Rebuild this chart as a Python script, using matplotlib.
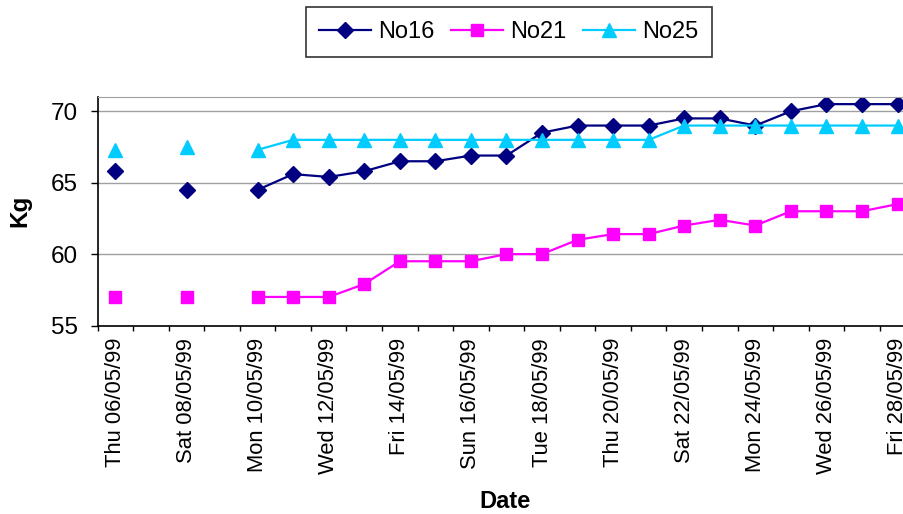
import matplotlib
matplotlib.use("Agg")
import matplotlib.pyplot as plt
import numpy as np
import pandas as pd

plt.rcParams["font.family"] = ["Liberation Sans", "DejaVu Sans"]

# one category per day, 6 May 1999 .. 28 May 1999 (no weighing on 7th and 9th)
dates = pd.date_range("1999-05-06", "1999-05-28", freq="D")
no16 = [65.8, np.nan, 64.5, np.nan, 64.5, 65.6, 65.4, 65.8, 66.5, 66.5, 66.9, 66.9,
        68.5, 69.0, 69.0, 69.0, 69.5, 69.5, 69.0, 70.0, 70.5, 70.5, 70.5]
no21 = [57.0, np.nan, 57.0, np.nan, 57.0, 57.0, 57.0, 57.9, 59.5, 59.5, 59.5, 60.0,
        60.0, 61.0, 61.4, 61.4, 62.0, 62.4, 62.0, 63.0, 63.0, 63.0, 63.5]
no25 = [67.3, np.nan, 67.5, np.nan, 67.3, 68.0, 68.0, 68.0, 68.0, 68.0, 68.0, 68.0,
        68.0, 68.0, 68.0, 68.0, 69.0, 69.0, 69.0, 69.0, 69.0, 69.0, 69.0]
y_ticks = [55, 60, 65, 70]

fig = plt.figure(figsize=(9.04, 5.14), dpi=100)
ax = fig.add_axes([0.108, 0.3667, 0.9045, 0.4446])

x = np.arange(len(dates))
ax.plot(x, no16, color="#000080", lw=1.6, marker="D", ms=8.5, label="No16")
ax.plot(x, no21, color="#FF00FF", lw=1.6, marker="s", ms=9, label="No21")
ax.plot(x, no25, color="#00CCFF", lw=1.6, marker="^", ms=10, label="No25")

ax.set_xlim(-0.5, len(dates) - 0.5)
ax.set_ylim(55, 71)

# tick marks on day boundaries, labels on every other day centre
ax.set_xticks(np.arange(-0.5, len(dates), 1.0))
ax.set_xticklabels([])
ax.set_xticks(x[::2], minor=True)
ax.set_xticklabels([d.strftime("%a %d/%m/%y") for d in dates[::2]],
                   minor=True, rotation=90, fontsize=15.8)
ax.tick_params(axis="x", which="major", direction="out", length=3.5, width=1)
ax.tick_params(axis="x", which="minor", length=0, pad=9)

ax.set_yticks(y_ticks)
ax.tick_params(axis="y", direction="out", length=5, width=1, labelsize=17.5, pad=9)
ax.yaxis.grid(True, color="#A0A0A0", lw=1)
ax.set_axisbelow(True)

for side in ("top", "right"):
    ax.spines[side].set_color("#A0A0A0")
for side in ("left", "bottom"):
    ax.spines[side].set_color("black")
    ax.spines[side].set_linewidth(1.2)

ax.set_ylabel("Kg", fontsize=17.5, fontweight="bold", labelpad=14)
ax.set_xlabel("Date", fontsize=17, fontweight="bold")
ax.xaxis.set_label_coords(0.498, -0.718)

leg = fig.legend(loc="upper center", bbox_to_anchor=(0.563, 0.986), ncol=3,
                 fontsize=17, frameon=True, fancybox=False, edgecolor="black",
                 handlelength=2.2, handletextpad=0.3, columnspacing=0.7,
                 borderpad=0.58, borderaxespad=0)
leg.get_frame().set_linewidth(1.2)

fig.savefig("out.png", dpi=100)
